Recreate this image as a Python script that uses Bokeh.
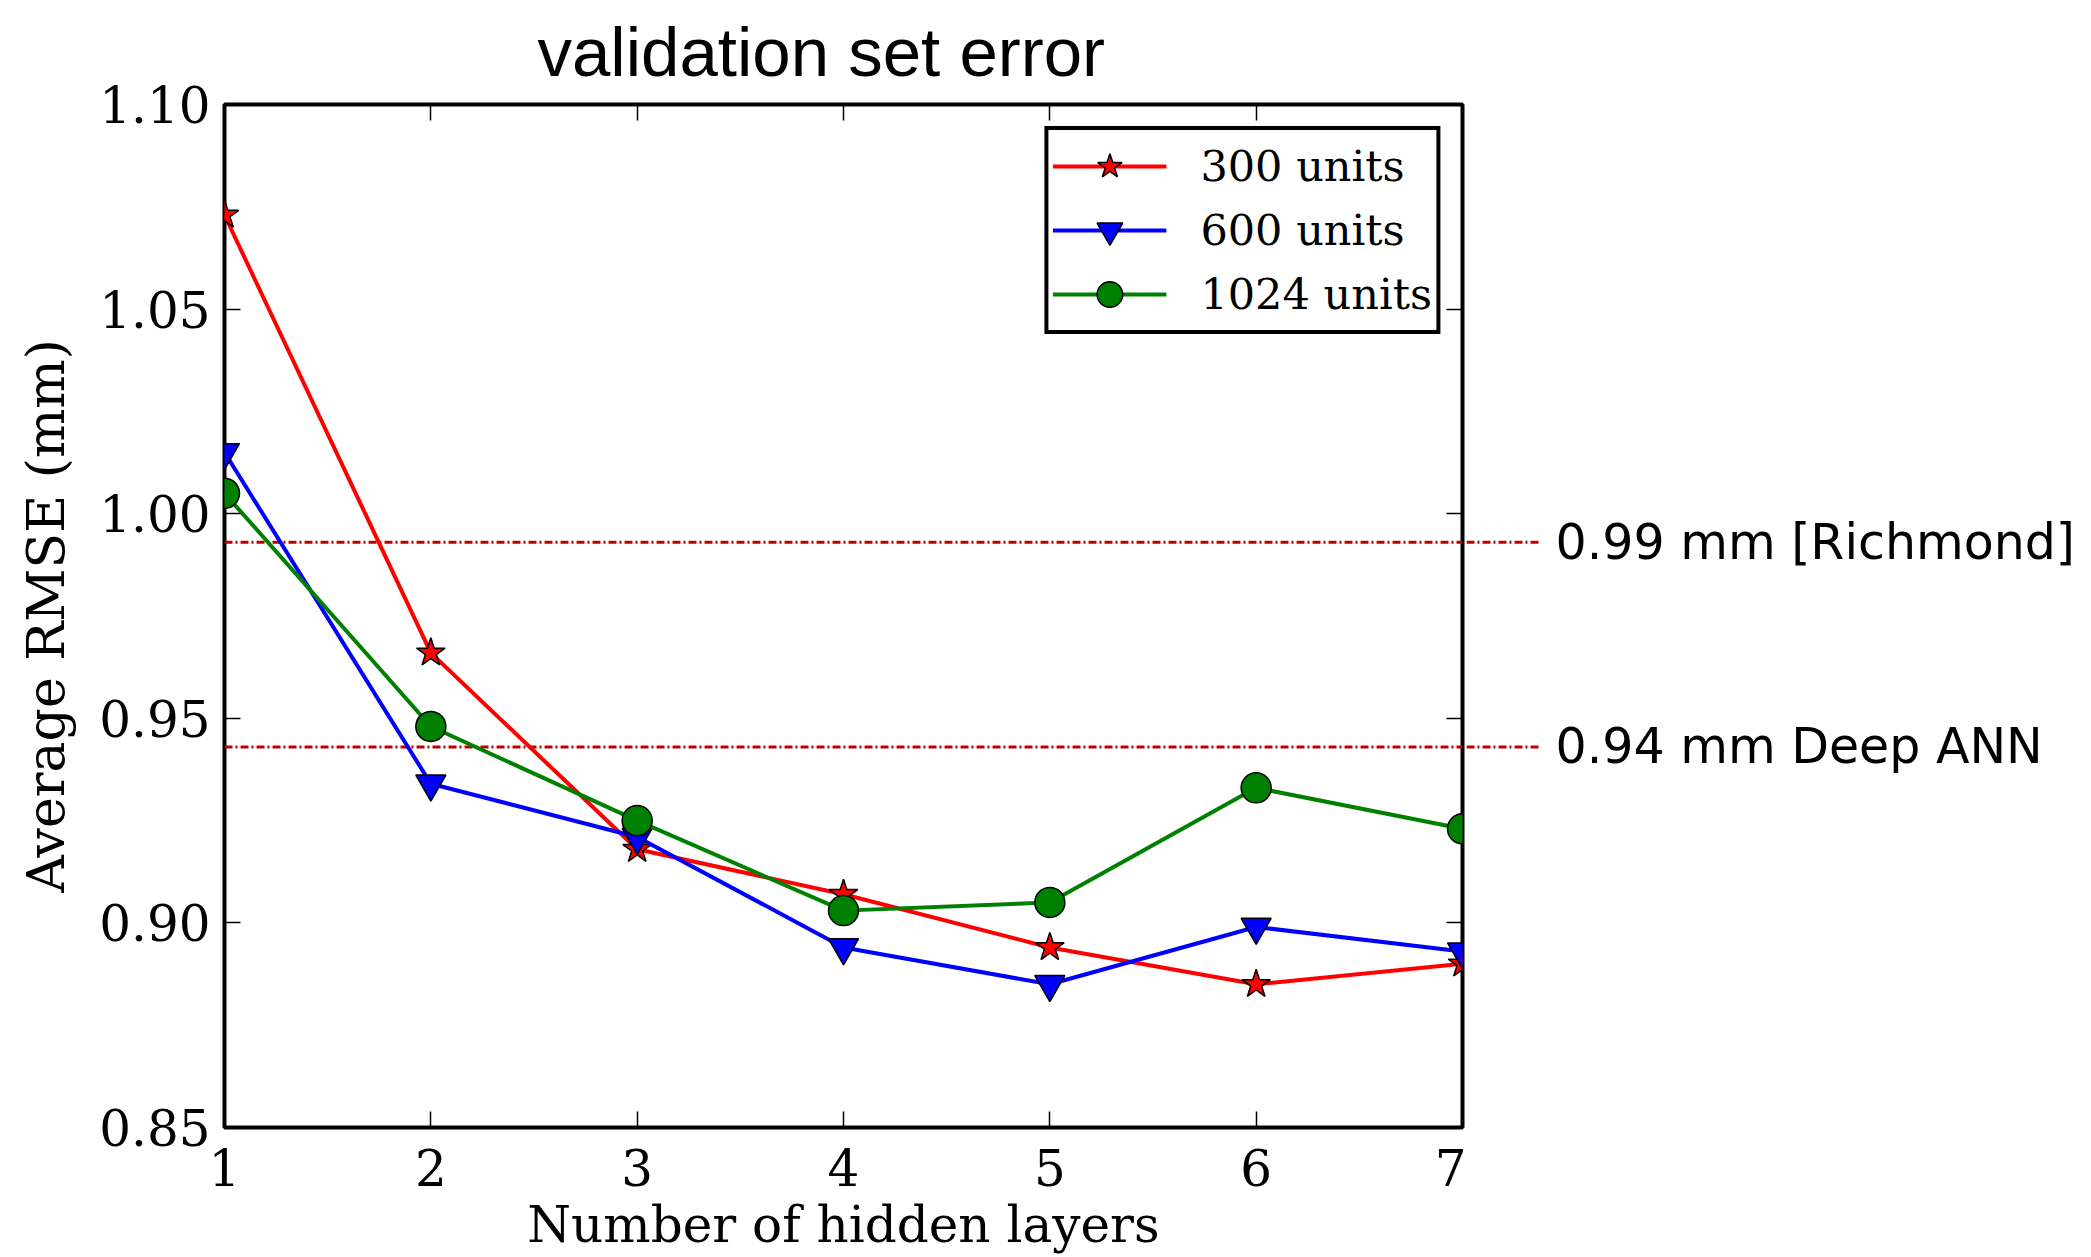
from bokeh.plotting import figure
from bokeh.layouts import row
from bokeh.models import (Range1d, FixedTicker, LinearAxis, Legend, LegendItem,
                          PrintfTickFormatter, Title)
from bokeh.core.properties import value
from bokeh.embed import file_html
from bokeh.resources import INLINE

# ---- data ----
layers = [1, 2, 3, 4, 5, 6, 7]
rmse_300 = [1.073, 0.966, 0.918, 0.907, 0.894, 0.885, 0.890]
rmse_600 = [1.015, 0.934, 0.921, 0.894, 0.885, 0.899, 0.893]
rmse_1024 = [1.005, 0.948, 0.925, 0.903, 0.905, 0.933, 0.923]
series_names = ["300 units", "600 units", "1024 units"]
ref_values = [0.993, 0.943]
ref_labels = ["0.99 mm [Richmond]", "0.94 mm Deep ANN"]
x_ticks = [1, 2, 3, 4, 5, 6, 7]
y_ticks = [0.85, 0.90, 0.95, 1.00, 1.05, 1.10]
title_text = "validation set error"

SERIF = "DejaVu Serif"
W, H = 2091, 1257
TOP, BOTTOM = 104, 130
MAIN_W = 1466

# ---- main axes ----
p1 = figure(width=MAIN_W, height=H, x_range=Range1d(1, 7), y_range=Range1d(0.85, 1.10),
            output_backend="svg", toolbar_location=None, title_location=None,
            min_border_left=224, min_border_right=4, min_border_top=TOP, min_border_bottom=BOTTOM)
p1.background_fill_color = "white"
p1.border_fill_color = "white"
p1.grid.visible = False
p1.outline_line_color = "black"
p1.outline_line_width = 4

top_ticks = LinearAxis()
p1.add_layout(top_ticks, "above")
p1.add_layout(Title(text=title_text, text_font="Liberation Sans", text_font_size="69px",
                    text_font_style="normal", text_color="black", align="left",
                    vertical_align="top", offset=313, standoff=24), "above")
p1.add_layout(LinearAxis(), "right")

for ax in p1.xaxis:
    ax.ticker = FixedTicker(ticks=x_ticks)
for ax in p1.yaxis:
    ax.ticker = FixedTicker(ticks=y_ticks)
    ax.formatter = PrintfTickFormatter(format="%.2f")

for ax in p1.axis:
    ax.axis_line_color = None
    ax.major_tick_in = 16
    ax.major_tick_out = 0
    ax.major_tick_line_width = 1.5
    ax.major_tick_line_color = "black"
    ax.minor_tick_line_color = None
    ax.major_label_text_font = SERIF
    ax.major_label_text_color = "black"
    ax.axis_label_text_font = SERIF
    ax.axis_label_text_font_style = "normal"
    ax.axis_label_text_color = "black"

# top / right axes: ticks only
for ax in (top_ticks, p1.right[0]):
    ax.major_label_text_color = None
    ax.major_label_standoff = 0

xb = p1.below[0]
xb.axis_label = "Number of hidden layers"
xb.major_label_text_font_size = "50px"
xb.major_label_standoff = 21
xb.axis_label_text_font_size = "50px"
xb.axis_label_standoff = 7

yl = p1.left[0]
yl.axis_label = "Average RMSE (mm)"
yl.major_label_text_font_size = "50px"
yl.major_label_standoff = 14
yl.axis_label_text_font_size = "52px"
yl.axis_label_standoff = 20

REF_COLOR = "#c00000"
REF_DASH = "8 3 2 3"

# reference lines inside the axes
p1.segment(x0=[x_ticks[0]] * len(ref_values), y0=ref_values,
           x1=[x_ticks[-1]] * len(ref_values), y1=ref_values,
           line_color=REF_COLOR, line_width=3, line_dash=REF_DASH)

series = [
    (rmse_300, "#ff0000", "star", 30),
    (rmse_600, "#0000ff", "inverted_triangle", 30),
    (rmse_1024, "#008000", "circle", 30),
]
items = []
for (vals, col, mk, sz), name in zip(series, series_names):
    ln = p1.line(layers, vals, line_color=col, line_width=4)
    sc = p1.scatter(layers, vals, marker=mk, size=sz, fill_color=col,
                    line_color="black", line_width=1.5)
    items.append(LegendItem(label=name, renderers=[ln, sc]))

legend = Legend(items=items, location="top_right")
legend.margin = 22
legend.padding = 4
legend.spacing = 0
legend.glyph_width = 114
legend.glyph_height = 64
legend.label_standoff = 34
legend.label_text_font = SERIF
legend.label_text_font_size = "43px"
legend.label_text_color = "black"
legend.border_line_color = "black"
legend.border_line_alpha = 1.0
legend.border_line_width = 4
legend.background_fill_alpha = 1.0
p1.add_layout(legend)

# ---- right-hand strip: continuation of the reference lines and their labels ----
SIDE_W = W - MAIN_W
p2 = figure(width=SIDE_W, height=H, x_range=Range1d(0, SIDE_W), y_range=p1.y_range,
            output_backend="svg", toolbar_location=None, title_location=None,
            x_axis_location=None, y_axis_location=None,
            min_border_left=0, min_border_right=0, min_border_top=TOP, min_border_bottom=BOTTOM)
p2.grid.visible = False
p2.outline_line_color = None
p2.background_fill_color = "white"
p2.border_fill_color = "white"

p2.segment(x0=[0] * len(ref_values), y0=ref_values, x1=[74] * len(ref_values), y1=ref_values,
           line_color=REF_COLOR, line_width=3, line_dash=REF_DASH)
p2.text(x=[89] * len(ref_values), y=ref_values, text=ref_labels,
        text_font=value("DejaVu Sans"), text_font_size="49px",
        text_baseline="middle", text_align="left", text_color="black")

p = row(p1, p2)
open("out.html", "w").write(file_html(p, INLINE))
